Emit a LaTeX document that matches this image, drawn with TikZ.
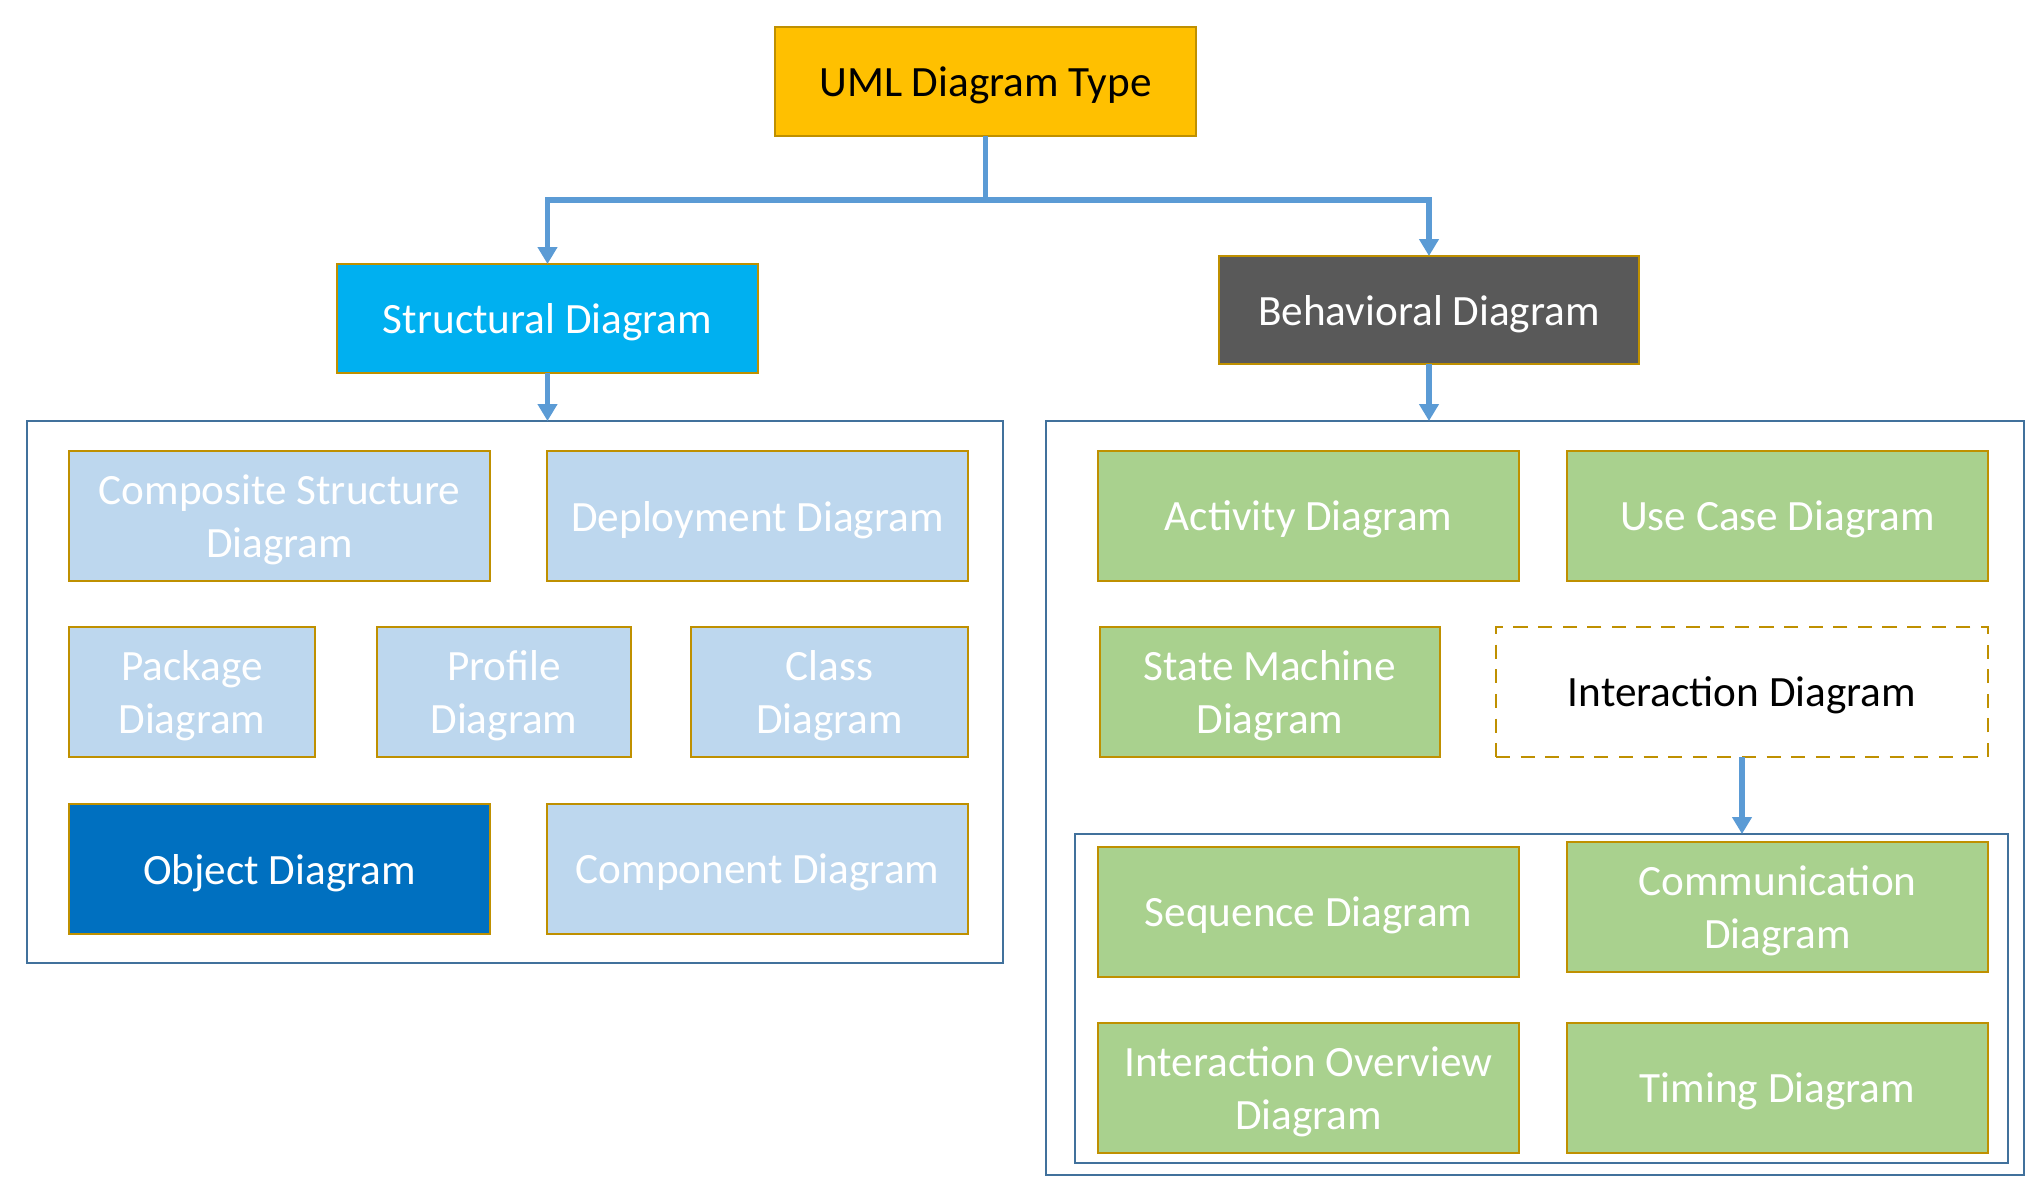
\documentclass[tikz,border=0pt]{standalone}
\usepackage{fontspec}
\setmainfont{Carlito}
\usepackage{tikz}
\usepackage{xcolor}
\usetikzlibrary{arrows.meta}

\definecolor{umlgold}{HTML}{FFC000}
\definecolor{goldedge}{HTML}{BF9000}
\definecolor{structcyan}{HTML}{00B0F0}
\definecolor{behavgray}{HTML}{595959}
\definecolor{paleblue}{HTML}{BDD7EE}
\definecolor{objblue}{HTML}{0070C0}
\definecolor{leafgreen}{HTML}{A9D18E}
\definecolor{framecol}{HTML}{41719C}
\definecolor{linkcol}{HTML}{5B9BD5}

\tikzset{
  kind/.style={draw=goldedge, line width=0.8pt, inner sep=0pt, outer sep=0pt,
    align=center, text=white, text depth=0pt,
    font=\fontsize{12.3}{15}\selectfont},
  wide/.style={minimum width=4.21cm, minimum height=1.30cm},
  head/.style={kind, minimum width=4.21cm, minimum height=1.09cm},
  group/.style={draw=framecol, line width=0.7pt, inner sep=0pt, outer sep=0pt},
  link/.style={draw=linkcol, line width=1.6pt, -{Triangle[width=0.19cm,length=0.17cm]}},
}

\begin{document}
\begin{tikzpicture}[x=1cm,y=1cm]
\useasboundingbox (0,0) rectangle (20.43,-11.88);

% root and the two kinds
\node[head, fill=umlgold, text=black] (uml) at (9.855,-0.815) {UML Diagram Type};
\node[head, fill=structcyan] (struct) at (5.475,-3.185) {Structural Diagram};
\node[head, fill=behavgray, minimum width=4.20cm, minimum height=1.08cm] (behav) at (14.29,-3.10) {Behavioral Diagram};

% frames
\node[group, minimum width=9.76cm, minimum height=5.42cm] (structgrp) at (5.15,-6.92) {};
\node[group, minimum width=9.78cm, minimum height=7.54cm] (behavgrp) at (15.35,-7.98) {};
\node[group, minimum width=9.33cm, minimum height=3.29cm] (intergrp) at (15.415,-9.985) {};

% structural diagrams
\node[kind, wide, fill=paleblue] (composite) at (2.795,-5.16) {Composite Structure\\Diagram};
\node[kind, wide, fill=paleblue] (deploy) at (7.575,-5.16) {Deployment Diagram};
\node[kind, fill=paleblue, minimum width=2.46cm, minimum height=1.30cm] (package) at (1.92,-6.92) {Package\\Diagram};
\node[kind, fill=paleblue, minimum width=2.54cm, minimum height=1.30cm] (profile) at (5.04,-6.92) {Profile\\Diagram};
\node[kind, fill=paleblue, minimum width=2.77cm, minimum height=1.30cm] (class) at (8.295,-6.92) {Class\\Diagram};
\node[kind, wide, fill=objblue] (object) at (2.795,-8.69) {Object Diagram};
\node[kind, wide, fill=paleblue] (component) at (7.575,-8.69) {Component Diagram};

% behavioral diagrams
\node[kind, wide, fill=leafgreen] (activity) at (13.085,-5.16) {Activity Diagram};
\node[kind, wide, fill=leafgreen] (usecase) at (17.775,-5.16) {Use Case Diagram};
\node[kind, fill=leafgreen, minimum width=3.40cm, minimum height=1.30cm] (state) at (12.70,-6.92) {State Machine\\Diagram};
\node[kind, dashed, dash pattern=on 4pt off 3pt, fill=white, text=black, minimum width=4.92cm, minimum height=1.30cm] (interaction) at (17.42,-6.92) {Interaction Diagram};

% interaction diagrams
\node[kind, wide, fill=leafgreen] (sequence) at (13.085,-9.12) {Sequence Diagram};
\node[kind, wide, fill=leafgreen] (communication) at (17.775,-9.07) {Communication\\Diagram};
\node[kind, wide, fill=leafgreen] (overview) at (13.085,-10.88) {Interaction Overview\\Diagram};
\node[kind, wide, fill=leafgreen] (timing) at (17.775,-10.88) {Timing Diagram};

% connectors
\draw[link] (uml.south) -- ++(0,-0.64) -| (struct.north);
\draw[link] (uml.south) -- ++(0,-0.64) -| (behav.north);
\draw[link] (struct.south) -- (struct.south |- structgrp.north);
\draw[link] (behav.south) -- (behav.south |- behavgrp.north);
\draw[link] (interaction.south) -- (interaction.south |- intergrp.north);
\end{tikzpicture}
\end{document}
